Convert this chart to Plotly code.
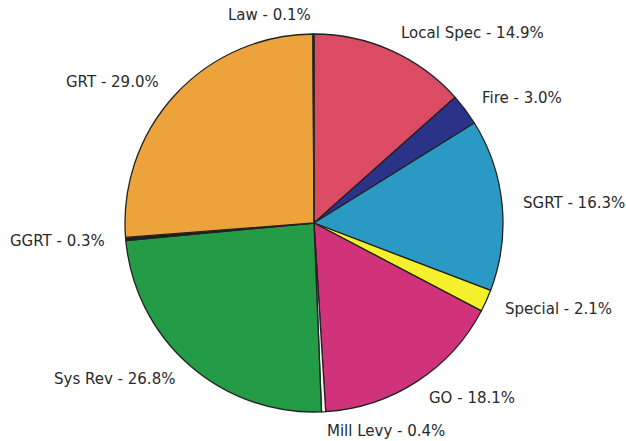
import math
import plotly.graph_objects as go

labels = ["Local Spec", "Fire", "SGRT", "Special", "GO", "Mill Levy",
          "Sys Rev", "GGRT", "GRT", "Law"]
values = [14.9, 3.0, 16.3, 2.1, 18.1, 0.4, 26.8, 0.3, 29.0, 0.1]
colors = ["#dc4b64", "#2b3389", "#2a9ac4", "#f4f02c", "#d1337b", "#f2f2f2",
          "#249b47", "#1e1e1e", "#eca33b", "#c0c0c0"]

texts = [f"{l} - {v:.1f}%" for l, v in zip(labels, values)]

W, H = 626, 441
# pie geometry in pixels
cx, cy, R = 314.0, 223.0, 189.0
dom_x = [(cx - R) / W, (cx + R) / W]
dom_y = [(H - (cy + R)) / H, (H - (cy - R)) / H]

fig = go.Figure(go.Pie(
    labels=labels, values=values, textinfo="none",
    sort=False, direction="clockwise", rotation=0,
    domain=dict(x=dom_x, y=dom_y),
    marker=dict(colors=colors, line=dict(color="#222222", width=1.3)),
    showlegend=False, hoverinfo="label+value",
))

# matplotlib-style labels at 1.1 radius
total = sum(values)
cum = 0.0
annotations = []
for t, v in zip(texts, values):
    theta = 2 * math.pi * (cum + v / 2) / total
    cum += v
    px = cx + 1.1 * R * math.sin(theta)
    py = cy - 1.1 * R * math.cos(theta)
    annotations.append(dict(
        x=px / W, y=(H - py) / H, xref="paper", yref="paper",
        text=t, showarrow=False,
        xanchor="left" if px > cx else "right", yanchor="middle",
        font=dict(family="DejaVu Sans", size=15, color="#2a2a2a"),
    ))

fig.update_layout(
    width=W, height=H,
    margin=dict(l=0, r=0, t=0, b=0),
    paper_bgcolor="white", plot_bgcolor="white",
    showlegend=False, annotations=annotations,
)
fig.write_html(
    "out.html",
    config={"displayModeBar": False},
    post_script="document.body.style.margin='0';document.body.style.padding='0';",
)
